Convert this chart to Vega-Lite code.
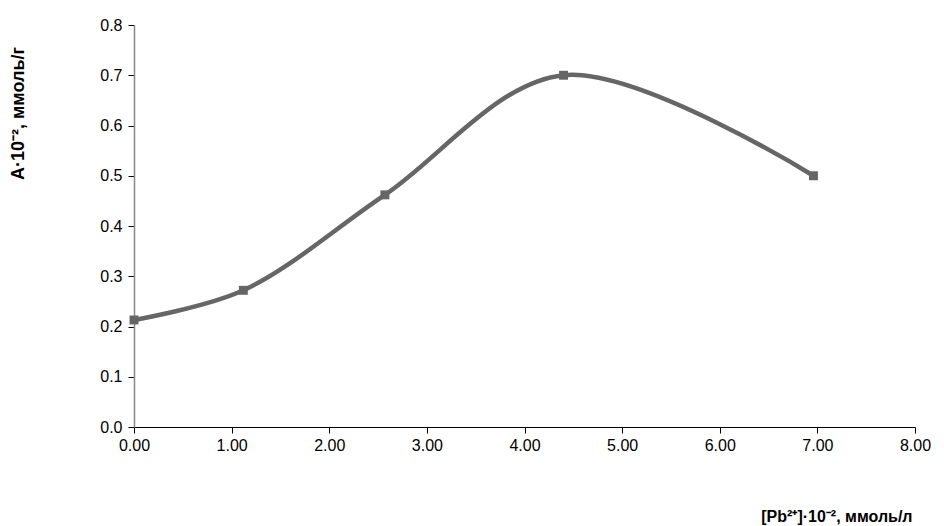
{
  "$schema": "https://vega.github.io/schema/vega-lite/v6.json",
  "width": 781,
  "height": 402,
  "autosize": "none",
  "padding": {"left": 134, "top": 25, "right": 29, "bottom": 99},
  "background": "white",
  "config": {"view": {"stroke": null}, "font": "Liberation Sans"},
  "data": {"values": [
    {"x": 0.0, "y": 0.213},
    {"x": 1.12, "y": 0.272},
    {"x": 2.57, "y": 0.462},
    {"x": 4.40, "y": 0.700},
    {"x": 6.96, "y": 0.500}
  ]},
  "layer": [
    {
      "mark": {"type": "line", "interpolate": "catmull-rom", "color": "#666666", "strokeWidth": 4.5},
      "encoding": {
        "x": {"field": "x", "type": "quantitative"},
        "y": {"field": "y", "type": "quantitative"}
      }
    },
    {
      "mark": {"type": "point", "shape": "square", "filled": true, "color": "#666666", "size": 80, "opacity": 1},
      "encoding": {
        "x": {"field": "x", "type": "quantitative",
          "scale": {"domain": [0, 8], "nice": false},
          "axis": {"values": [0,1,2,3,4,5,6,7,8], "format": ".2f", "grid": false, "domainColor": "#000", "tickColor": "#000", "tickSize": 6,
            "labelFontSize": 16, "labelColor": "#000", "labelPadding": 4, "labelFlush": false,
            "title": "[Pb²⁺]·10⁻², ммоль/л", "titleFontSize": 16, "titleFontWeight": "bold", "titleColor": "#000",
            "titleAnchor": "end", "titleAlign": "right", "titleX": 778, "titleY": 94, "titleBaseline": "alphabetic"}},
        "y": {"field": "y", "type": "quantitative",
          "scale": {"domain": [0, 0.8], "nice": false},
          "axis": {"values": [0,0.1,0.2,0.3,0.4,0.5,0.6,0.7,0.8], "format": ".1f", "grid": false, "domainColor": "#888", "domainWidth": 1.5, "tickColor": "#000", "tickSize": 6,
            "labelFontSize": 16, "labelColor": "#000", "labelPadding": 6, "labelFlush": false,
            "title": "A·10⁻², ммоль/г", "titleFontSize": 18, "titleFontWeight": "bold", "titleColor": "#000",
            "titleAngle": -90, "titleX": -116, "titleY": 88, "titleAlign": "center", "titleBaseline": "middle"}}
      }
    }
  ]
}
